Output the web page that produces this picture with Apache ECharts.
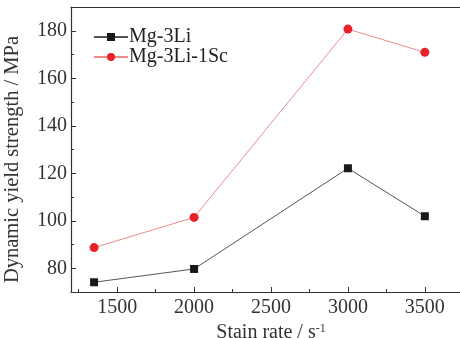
<!DOCTYPE html>
<html><head><meta charset="utf-8">
<script src="https://cdn.jsdelivr.net/npm/echarts@6/dist/echarts.min.js"></script>
<style>html,body{margin:0;padding:0;background:#fff}#c{width:460px;height:338px}</style>
</head><body><div id="c"></div>
<script>
var strainRates = [1350, 2000, 3000, 3500];
var mg3Li = [74.1, 79.7, 122.1, 101.9];
var mg3Li1Sc = [88.7, 101.4, 180.7, 170.9];
var seriesNames = ['Mg-3Li', 'Mg-3Li-1Sc'];
var xTickLabels = [1500, 2000, 2500, 3000, 3500];
var xMinorTicks = [1250, 1750, 2250, 2750, 3250, 3750];
var yTickLabels = [80, 100, 120, 140, 160, 180];
var yMinorTicks = [70, 90, 110, 130, 150, 170, 190];

function pairs(xs, ys) { return xs.map(function (x, i) { return [x, ys[i]]; }); }
var font = 'Liberation Serif';
var col = '#333';
var chart = echarts.init(document.getElementById('c'));
var xBase = { type: 'value', min: 1200, max: 3800, splitLine: { show: false } };
var yBase = { type: 'value', min: 70, max: 190, splitLine: { show: false } };
function plain(v) { return String(v); }
chart.setOption({
  animation: false,
  textStyle: { fontFamily: font },
  grid: { left: 71, top: 7, right: -11, bottom: 46, show: false, outerBoundsMode: 'none', containLabel: false },
  legend: {
    left: 88, top: 22, orient: 'vertical', itemGap: 0, itemWidth: 34, itemHeight: 10,
    textStyle: { fontFamily: font, fontSize: 20, color: '#222', padding: [0, 0, 0, -4] },
    data: seriesNames
  },
  xAxis: [
    Object.assign({}, xBase, {
      axisLine: { lineStyle: { color: col, width: 1.2 } },
      axisTick: { inside: true, length: 5, lineStyle: { color: col }, customValues: xTickLabels },
      axisLabel: { fontFamily: font, fontSize: 20, color: col, margin: 6, customValues: xTickLabels, formatter: plain },
      name: '{a|Stain rate / s}{b|-1}', nameLocation: 'middle', nameGap: 25,
      nameTextStyle: { rich: { a: { fontFamily: font, fontSize: 20, color: col }, b: { fontFamily: font, fontSize: 12, color: col, verticalAlign: 'top', padding: [0, 0, 8, 0] } } }
    }),
    Object.assign({}, xBase, {
      position: 'bottom',
      axisLine: { show: false },
      axisTick: { inside: true, length: 3, lineStyle: { color: col }, customValues: xMinorTicks },
      axisLabel: { show: false }
    }),
    Object.assign({}, xBase, {
      position: 'top',
      axisLine: { show: true, lineStyle: { color: col, width: 1.2 } },
      axisTick: { show: false },
      axisLabel: { show: false }
    })
  ],
  yAxis: [
    Object.assign({}, yBase, {
      axisLine: { show: true, lineStyle: { color: col, width: 1.2 } },
      axisTick: { show: true, inside: true, length: 5, lineStyle: { color: col }, customValues: yTickLabels },
      axisLabel: { fontFamily: font, fontSize: 20, color: col, margin: 4, customValues: yTickLabels, formatter: plain },
      name: 'Dynamic yield strength / MPa', nameLocation: 'middle', nameGap: 48,
      nameTextStyle: { fontFamily: font, fontSize: 20.5, color: col, padding: [0, 20, 0, 0] }
    }),
    Object.assign({}, yBase, {
      position: 'left',
      axisLine: { show: false },
      axisTick: { show: true, inside: true, length: 3, lineStyle: { color: col }, customValues: yMinorTicks },
      axisLabel: { show: false }
    })
  ],
  series: [
    {
      name: seriesNames[0], type: 'line', data: pairs(strainRates, mg3Li),
      symbol: 'rect', symbolSize: 8,
      itemStyle: { color: '#1a1a1a' },
      lineStyle: { color: '#555', width: 1 }
    },
    {
      name: seriesNames[1], type: 'line', data: pairs(strainRates, mg3Li1Sc),
      symbol: 'circle', symbolSize: 9,
      itemStyle: { color: '#e8202a' },
      lineStyle: { color: '#f08a8a', width: 1 }
    }
  ]
});
</script></body></html>
